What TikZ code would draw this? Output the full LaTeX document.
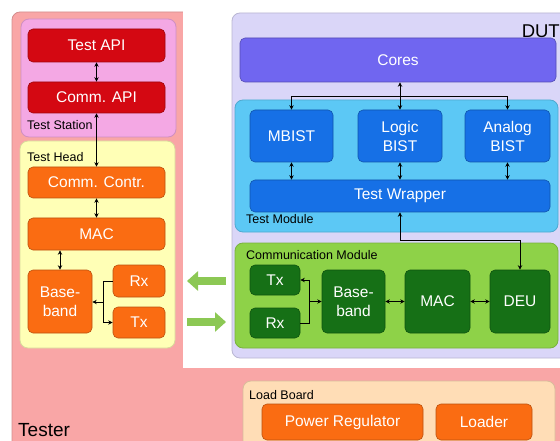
\documentclass[tikz,border=0pt]{standalone}
\usepackage{fontspec}
\setmainfont{Liberation Sans}
\usetikzlibrary{arrows.meta,calc}
\definecolor{testerC}{RGB}{249,166,166}
\definecolor{stationC}{RGB}{244,168,228}
\definecolor{redC}{RGB}{212,8,18}
\definecolor{headC}{RGB}{255,255,182}
\definecolor{orangeC}{RGB}{250,108,18}
\definecolor{dutC}{RGB}{218,214,248}
\definecolor{coresC}{RGB}{112,102,240}
\definecolor{tmodC}{RGB}{92,200,245}
\definecolor{blueC}{RGB}{22,112,230}
\definecolor{cmodC}{RGB}{142,210,72}
\definecolor{dgreenC}{RGB}{22,112,22}
\definecolor{loadC}{RGB}{255,221,182}
\definecolor{arrowC}{RGB}{140,200,84}
\tikzset{
  box/.style={rectangle, rounded corners=5pt, fill=#1, draw=#1!75!black, line width=0.6pt,
    text=white, font=\fontsize{15.5}{19}\selectfont, align=center, inner sep=1pt},
  cont/.style={rounded corners=8pt, fill=#1, draw=#1!85!black, line width=0.8pt},
  lbl/.style={font=\fontsize{12.5}{14}\selectfont, text=black, inner sep=0pt},
  conn/.style={line width=0.9pt, black},
  arr/.style={conn, -{Stealth[length=4.5pt,width=4.5pt]}},
  darr/.style={conn, {Stealth[length=4.5pt,width=4.5pt]}-{Stealth[length=4.5pt,width=4.5pt]}},
  garrow/.style={line width=8pt, arrowC, -{Triangle[length=11pt,width=19pt]}}
}
\begin{document}
\begin{tikzpicture}[x=1pt,y=-1pt]
\useasboundingbox (0,0) rectangle (560,441);
% Tester background
\path[cont=testerC] (12,12) rectangle (580,460);
\fill[white] (183,-5) rectangle (570,368);
\node[lbl, font=\fontsize{19}{21}\selectfont, anchor=base west] (tester) at (18,436) {Tester};
% Test station
\path[cont=stationC] (21,19) rectangle (176,137);
\node[lbl, anchor=west] (stlbl) at (27,125) {Test Station};
\node[box=redC, minimum width=137pt, minimum height=33pt] (testapi) at (96.5,45.5) {Test API};
\node[box=redC, minimum width=137pt, minimum height=31pt] (commapi) at (96.5,97.5) {Comm. API};
% Test head
\path[cont=headC] (20,141) rectangle (175,348);
\node[lbl, anchor=west] (hdlbl) at (27,157) {Test Head};
\node[box=orangeC, minimum width=137pt, minimum height=31pt] (commcontr) at (96.5,182.5) {Comm. Contr.};
\node[box=orangeC, minimum width=137pt, minimum height=32pt] (macL) at (96.5,234) {MAC};
\node[box=orangeC, minimum width=64pt, minimum height=63pt] (bbL) at (60,301.5) {Base-\\band};
\node[box=orangeC, minimum width=52pt, minimum height=32pt] (rxL) at (139,281) {Rx};
\node[box=orangeC, minimum width=52pt, minimum height=31pt] (txL) at (139,322.5) {Tx};
% DUT
\path[cont=dutC] (232,13) rectangle (575,358);
\node[lbl, font=\fontsize{18.5}{20}\selectfont, anchor=east] (dutlbl) at (560,31) {DUT};
\node[box=coresC, minimum width=316pt, minimum height=44pt] (cores) at (398,60) {Cores};
% Test module
\path[cont=tmodC] (235,100) rectangle (558,232);
\node[lbl, anchor=west] (tmlbl) at (246,219) {Test Module};
\node[box=blueC, minimum width=83pt, minimum height=52pt] (mbist) at (291.5,136) {MBIST};
\node[box=blueC, minimum width=84pt, minimum height=52pt] (logic) at (400,136) {Logic\\BIST};
\node[box=blueC, minimum width=85pt, minimum height=52pt] (analog) at (507.5,136) {Analog\\BIST};
\node[box=blueC, minimum width=300pt, minimum height=32pt] (wrapper) at (400,196) {Test Wrapper};
% Communication module
\path[cont=cmodC] (235,243) rectangle (558,348);
\node[lbl, anchor=west] (cmlbl) at (246,255) {Communication Module};
\node[box=dgreenC, minimum width=50pt, minimum height=30pt] (txR) at (275,280) {Tx};
\node[box=dgreenC, minimum width=50pt, minimum height=30pt] (rxR) at (275,323) {Rx};
\node[box=dgreenC, minimum width=63pt, minimum height=63pt] (bbR) at (353.5,301.5) {Base-\\band};
\node[box=dgreenC, minimum width=65pt, minimum height=63pt] (macR) at (437.5,301.5) {MAC};
\node[box=dgreenC, minimum width=60pt, minimum height=63pt] (deu) at (520,301.5) {DEU};
% Load board
\path[cont=loadC] (243,381) rectangle (555,455);
\node[lbl, anchor=west] (lblbl) at (249,395) {Load Board};
\node[box=orangeC, minimum width=161pt, minimum height=36pt] (power) at (342.5,422) {Power Regulator};
\node[box=orangeC, minimum width=96pt, minimum height=36pt] (loader) at (484,422) {Loader};
% Connectors, tester side
\draw[darr] (testapi) -- (commapi);
\draw[darr] (commapi) -- (commcontr);
\draw[darr] (commcontr) -- (macL);
\draw[darr] (macL.south -| bbL.north) -- (bbL.north);
\coordinate (jL) at (103,302);
\draw[conn] (rxL.west) -| (jL);
\draw[arr] (jL) |- (txL.west);
\draw[arr] (jL) -- (bbL.east |- jL);
% Connectors, DUT side
\coordinate (bus) at (400,96);
\draw[darr] (cores.south -| logic.north) -- (logic.north);
\draw[arr] (bus) -| (mbist.north);
\draw[arr] (bus) -| (analog.north);
\draw[darr] (mbist.south) -- (mbist.south |- wrapper.north);
\draw[darr] (logic.south) -- (logic.south |- wrapper.north);
\draw[darr] (analog.south) -- (analog.south |- wrapper.north);
\coordinate (wd) at (400,240);
\draw[darr] (wrapper.south) -- (wd) -| (deu.north);
\coordinate (jR) at (309,301.5);
\draw[conn] (rxR.east) -| (jR);
\draw[arr] (jR) |- (txR.east);
\draw[arr] (jR) -- (bbR.west);
\draw[darr] (bbR) -- (macR);
\draw[darr] (macR) -- (deu);
% Green link arrows
\coordinate (ga1) at (226,281);
\coordinate (ga2) at (187,281);
\coordinate (gb1) at (187,322);
\coordinate (gb2) at (226,322);
\draw[garrow] (ga1) -- (ga2);
\draw[garrow] (gb1) -- (gb2);
\end{tikzpicture}
\end{document}
